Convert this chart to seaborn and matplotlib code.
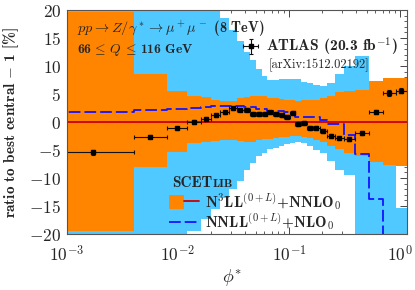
"""phi* ratio plot: SCETlib predictions vs ATLAS 8 TeV data."""

import matplotlib

matplotlib.use("Agg")
import matplotlib.pyplot as plt
import numpy as np
import seaborn as sns
from matplotlib.legend_handler import HandlerTuple
from matplotlib.lines import Line2D
from matplotlib.patches import Patch
from matplotlib.ticker import FuncFormatter, LogLocator, MultipleLocator

# phi* bin edges (first edge pushed below the axis range)
phi_edges = [0.00075, 0.004, 0.008, 0.012, 0.016, 0.020, 0.024, 0.029, 0.034,
             0.039, 0.045, 0.051, 0.057, 0.064, 0.072, 0.081, 0.091, 0.102,
             0.114, 0.128, 0.145, 0.165, 0.189, 0.219, 0.258, 0.312, 0.391,
             0.524, 0.695, 0.918, 1.153]

# N3LL+NNLO0 band (%), central is the reference -> 0
n3ll_hi = [19.7, 8.6, 5.5, 4.6, 4.4, 4.0, 3.7, 3.7, 4.2, 4.4, 4.6, 4.7, 4.6,
           4.3, 4.2, 4.1, 4.0, 3.9, 3.8, 4.0, 4.0, 4.0, 4.2, 4.6, 5.3, 5.6,
           5.8, 7.4, 7.9, 7.9]
n3ll_lo = [-19.5, -8.1, -5.4, -3.8, -3.6, -3.4, -3.3, -3.3, -3.4, -3.6, -3.6,
           -3.2, -3.0, -3.0, -2.9, -2.7, -2.6, -2.5, -2.5, -2.6, -2.8, -3.2,
           -3.6, -4.2, -4.8, -5.5, -6.0, -7.2, -7.6, -7.8]
n3ll_cen = [0.0] * 30

# NNLL+NLO0 band and central (%)
nnll_hi = [30, 30, 30, 30, 30, 30, 18.6, 16.5, 14.5, 12.5, 11.0, 9.5, 8.3,
           7.5, 7.5, 7.6, 7.6, 7.6, 7.6, 7.2, 7.0, 6.6, 6.4, 7.0, 8.5, 10.0,
           11.8, 5.0, 5.0, -15.3]
nnll_lo = [-30, -30, -30, -19.4, -17.3, -15.5, -13.5, -12.0, -10.5, -8.5,
           -7.3, -6.0, -5.5, -4.9, -4.6, -4.3, -4.0, -3.8, -3.6, -3.8, -4.3,
           -5.0, -5.6, -7.0, -8.6, -9.5, -30, -30, -30, -30]
nnll_cen = [1.7, 2.2, 2.4, 2.5, 2.6, 2.8, 2.8, 2.9, 2.9, 2.7, 2.6, 2.3, 2.3,
            2.0, 2.0, 1.9, 1.8, 1.6, 0.9, 0.9, 0.9, 0.9, 0.4, -0.3, -0.3,
            -2.4, -5.7, -13.7, -30, -30]

# ATLAS data relative to best central (%)
atlas_val = [-5.4, -2.6, -1.15, 0.0, 0.55, 1.2, 1.75, 2.45, 2.2, 2.2, 1.4,
             1.4, 1.5, 1.75, 1.45, 1.2, 0.95, 1.6, -0.4, -0.2, -1.1, -1.1,
             -1.6, -2.5, -2.9, -3.1, -2.0, 1.75, 5.2, 5.6]
atlas_err = [0.4, 0.3, 0.3, 0.3, 0.3, 0.3, 0.3, 0.3, 0.3, 0.3, 0.3, 0.3, 0.3,
             0.3, 0.3, 0.3, 0.3, 0.3, 0.3, 0.3, 0.3, 0.3, 0.3, 0.3, 0.3, 0.3,
             0.4, 0.4, 0.5, 0.5]

ORANGE = "#ff8400"
LIGHTBLUE = "#4fc9ff"
BLUE = "#1414ff"
RED = "#cc0000"

sns.set_style("ticks")
plt.rcParams["font.family"] = "cmb10"
plt.rcParams["mathtext.fontset"] = "cm"
plt.rcParams["axes.unicode_minus"] = False
plt.rcParams["axes.linewidth"] = 0.8

edges = np.array(phi_edges)
lo, hi = edges[:-1], edges[1:]
centers = np.sqrt(lo * hi)

fig = plt.figure(figsize=(4.15, 2.9), dpi=100)
ax = fig.add_axes([0.1607, 0.193, 0.82, 0.7725])
ax.set_xscale("log")

ax.stairs(nnll_hi, edges, baseline=nnll_lo, fill=True, color=LIGHTBLUE, lw=0)
ax.stairs(n3ll_hi, edges, baseline=n3ll_lo, fill=True, color=ORANGE, lw=0)

step_x = phi_edges
sns.lineplot(x=step_x, y=n3ll_cen + n3ll_cen[-1:], drawstyle="steps-post",
             color=RED, lw=1.3, ax=ax, estimator=None, sort=False)
sns.lineplot(x=step_x, y=nnll_cen + nnll_cen[-1:], drawstyle="steps-post",
             color=BLUE, lw=1.3, linestyle=(0, (6.5, 2.2)), ax=ax,
             estimator=None, sort=False)

data = ax.errorbar(centers, atlas_val, xerr=[centers - lo, hi - centers],
                   yerr=atlas_err, fmt="s", ms=3, color="black", ecolor="#111111",
                   elinewidth=0.8, capsize=1.5, capthick=0.8, zorder=5)

ax.set_xlim(1e-3, 1.153)
ax.set_ylim(-20, 20)
ax.yaxis.set_major_locator(MultipleLocator(5))
ax.yaxis.set_minor_locator(MultipleLocator(1))
ax.xaxis.set_major_locator(LogLocator(base=10))
ax.xaxis.set_minor_locator(LogLocator(base=10, subs=np.arange(2, 10)))
ax.yaxis.set_major_formatter(FuncFormatter(lambda v, p: r"$\mathbf{%d}$" % v))
ax.xaxis.set_major_formatter(
    FuncFormatter(lambda v, p: r"$\mathbf{10^{%d}}$" % round(np.log10(v))))
ax.tick_params(which="both", direction="in", top=True, right=True,
               color="#444444", labelsize=12.5)
ax.tick_params(which="major", length=5, width=0.7)
ax.tick_params(which="minor", length=2.5, width=0.6)
ax.tick_params(axis="x", pad=7)
ax.tick_params(axis="y", pad=4)
for s in ax.spines.values():
    s.set_color("#555555")
    s.set_zorder(10)

ax.set_ylabel(r"ratio to best central $-$ 1 [%]", fontsize=11)
ax.yaxis.set_label_coords(-0.135, 0.5)
ax.set_xlabel(r"$\phi^{*}$", fontsize=13)
ax.xaxis.set_label_coords(0.486, -0.145)

ax.text(0.03, 0.92, r"$pp \to Z/\gamma^* \to \mu^+\mu^-$ (8 TeV)",
        transform=ax.transAxes, fontsize=10.3, va="center", ha="left")
ax.text(0.03, 0.82, r"66$\,\leq\,Q\,\leq\,$116 GeV", transform=ax.transAxes,
        fontsize=9.8, va="center", ha="left")
ax.text(0.592, 0.754, "[arXiv:1512.02192]", transform=ax.transAxes,
        fontsize=9, family="cmr10", va="center", ha="left")

leg1 = ax.legend([data], [r"ATLAS (20.3 fb$^{-1}$)"], loc="center left",
                 bbox_to_anchor=(0.515, 0.835), frameon=False, fontsize=11.2,
                 handlelength=1.1, handletextpad=0.45, borderpad=0,
                 borderaxespad=0)
ax.add_artist(leg1)

t_scet = ax.text(0.31, 0.226, "SCET", transform=ax.transAxes, fontsize=11,
                 va="center", ha="left")
ax.annotate("LIB", xy=(1.0, 0.0), xycoords=t_scet, xytext=(0.4, 0.9),
            textcoords="offset points", fontsize=8.5, va="bottom", ha="left")

h1 = (Patch(facecolor=ORANGE, lw=0), Line2D([], [], color=RED, lw=1.3))
h2 = Line2D([], [], color=BLUE, lw=1.3, linestyle=(0, (6.5, 2.2)))
ax.legend([h1, h2],
          [r"N$^3$LL$^{(0+L)}$+NNLO$_0$", r"NNLL$^{(0+L)}$+NLO$_0$"],
          handler_map={tuple: HandlerTuple(ndivide=None, pad=0)},
          loc="center left", bbox_to_anchor=(0.3, 0.1), frameon=False,
          fontsize=11, handlelength=2.0, handleheight=1.1,
          handletextpad=0.35, labelspacing=0.0, borderpad=0, borderaxespad=0)

fig.savefig("out.png", dpi=100)
